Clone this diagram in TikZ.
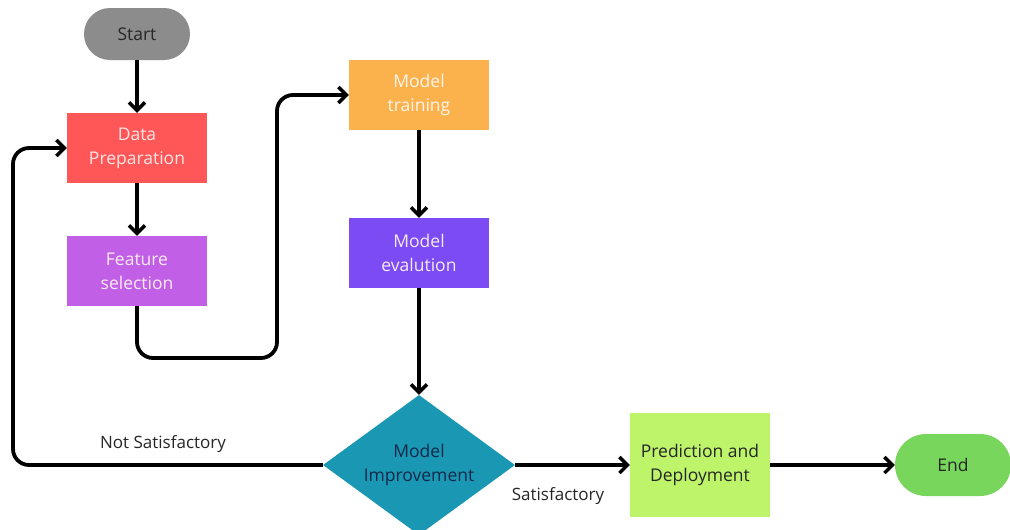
\documentclass[tikz,border=0pt]{standalone}
\usepackage{fontspec}
\setmainfont{Open Sans}
\usetikzlibrary{arrows.meta,shapes.geometric}
\definecolor{startgray}{HTML}{8C8C8C}
\definecolor{prepred}{HTML}{FF5757}
\definecolor{featpurple}{HTML}{C15FE6}
\definecolor{trainorange}{HTML}{FBB24C}
\definecolor{evalviolet}{HTML}{7C4BF4}
\definecolor{decteal}{HTML}{1A97B2}
\definecolor{predgreen}{HTML}{BDF46A}
\definecolor{endgreen}{HTML}{78D65C}
\definecolor{navytext}{HTML}{13294B}
\tikzset{
  every node/.style={font=\fontsize{17.5}{24}\selectfont, align=center, inner sep=0pt},
  stepbox/.style={rectangle, minimum width=140pt, minimum height=70pt},
  pill/.style={rectangle, rounded corners=26pt, minimum width=106pt, minimum height=52pt},
  flow/.style={line width=3.8pt, -{Straight Barb[length=8pt,width=16pt,line width=3.4pt]}, rounded corners=16pt},
  lbl/.style={font=\fontsize{17}{20}\selectfont, text=black!85}
}
\begin{document}
\begin{tikzpicture}[x=1pt,y=-1pt]
\useasboundingbox (0,0) rectangle (1010,530);
\clip (0,0) rectangle (1010,530);
\fill[white] (0,0) rectangle (1010,530);

\node[pill, fill=startgray, text=black!85] (start) at (137,34) {Start};
\node[stepbox, fill=prepred, text=red!10] (prep) at (137,148) {Data\\Preparation};
\node[stepbox, fill=featpurple, text=purple!8] (feat) at (137,271) {Feature\\selection};
\node[stepbox, fill=trainorange, text=orange!8] (train) at (419,95) {Model\\training};
\node[stepbox, fill=evalviolet, text=violet!8] (eval) at (419,253) {Model\\evalution};
\node[diamond, fill=decteal, text=navytext, minimum width=192pt, minimum height=140pt, aspect=1.37] (dec) at (419,465) {Model\\Improvement};
\node[stepbox, fill=predgreen, text=black!85, minimum height=104pt] (pred) at (700,465) {Prediction and\\Deployment};
\node[pill, fill=endgreen, text=black!85, minimum width=116pt, minimum height=62pt, rounded corners=31pt] (end) at (953,465) {End};

\coordinate (fb) at (137,358);
\coordinate (up) at (277,95);
\coordinate (lf) at (13,465);

\draw[flow] (start) -- (prep);
\draw[flow] (prep) -- (feat);
\draw[flow] (feat.south) |- (fb -| up) -- (up) -- (train.west);
\draw[flow] (train) -- (eval);
\draw[flow] (eval) -- (dec.north);
\draw[flow] (dec.west) -- (lf) |- (prep.west);
\draw[flow] (dec.east) -- (pred.west);
\draw[flow] (pred.east) -- (end.west);

\node[lbl] (notsat) at (163,444) {Not Satisfactory};
\node[lbl] (sat) at (558,496) {Satisfactory};
\end{tikzpicture}
\end{document}
